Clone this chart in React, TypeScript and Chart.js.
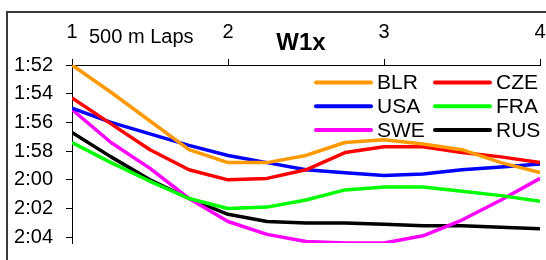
import React, { useEffect, useRef } from "react";
import { Chart, registerables } from "chart.js";

Chart.register(...registerables);

// Lap positions (500 m laps, sampled every quarter lap)
const lapPositions = [1, 1.25, 1.5, 1.75, 2, 2.25, 2.5, 2.75, 3, 3.25, 3.5, 3.75, 4];
const xTickValues = [1, 2, 3, 4];
const yTickValues = [112, 114, 116, 118, 120, 122, 124]; // seconds per 500 m
const yMin = 112;
const yMax = 124.4;

const titleText = "W1x";
const xAxisText = "500 m Laps";

const countries = ["BLR", "CZE", "USA", "FRA", "SWE", "RUS"];
const countryColors = ["#FF9900", "#FF0000", "#0000FF", "#00FF00", "#FF00FF", "#000000"];

// split times (seconds per 500 m)
const blrSplits = [112.0, 113.9, 115.9, 117.9, 118.8, 118.8, 118.3, 117.4, 117.2, 117.5, 117.9, 118.8, 119.5];
const czeSplits = [114.3, 116.1, 117.9, 119.3, 120.0, 119.9, 119.3, 118.1, 117.7, 117.7, 118.1, 118.4, 118.8];
const usaSplits = [115.0, 116.0, 116.8, 117.6, 118.3, 118.8, 119.3, 119.5, 119.7, 119.6, 119.3, 119.1, 118.9];
const fraSplits = [117.4, 118.8, 120.1, 121.3, 122.0, 121.9, 121.4, 120.7, 120.5, 120.5, 120.8, 121.1, 121.5];
const sweSplits = [115.1, 117.4, 119.2, 121.3, 122.9, 123.8, 124.3, 124.4, 124.4, 123.9, 122.8, 121.4, 119.9];
const rusSplits = [116.7, 118.4, 120.0, 121.3, 122.4, 122.9, 123.0, 123.0, 123.1, 123.2, 123.2, 123.3, 123.4];

const seriesValues = [blrSplits, czeSplits, usaSplits, fraSplits, sweSplits, rusSplits];

const FONT = "'Liberation Sans', Arial, sans-serif";

function fmt(v: number): string {
  const m = Math.floor(v / 60);
  const s = Math.round(v - m * 60);
  return m + ":" + (s < 10 ? "0" : "") + s;
}

function zeroPadding(scale: any) {
  scale.paddingLeft = 0;
  scale.paddingRight = 0;
  scale.paddingTop = 0;
  scale.paddingBottom = 0;
}

const overlayPlugin = {
  id: "overlayText",
  afterDraw(chart: any) {
    const ctx = chart.ctx;
    const area = chart.chartArea;
    ctx.save();
    ctx.fillStyle = "#000";
    // axis caption
    ctx.font = "20px " + FONT;
    ctx.textAlign = "left";
    ctx.textBaseline = "alphabetic";
    ctx.fillText(xAxisText, area.left + 17, 43);
    // title
    ctx.font = "bold 24px " + FONT;
    ctx.textAlign = "center";
    ctx.fillText(titleText, 301, 50);
    // legend
    ctx.font = "21px " + FONT;
    ctx.textAlign = "left";
    ctx.textBaseline = "middle";
    chart.data.datasets.forEach((ds: any, i: number) => {
      const col = i % 2;
      const row = Math.floor(i / 2);
      const x0 = area.right - (col === 0 ? 224 : 105);
      const y = area.top + 17.5 + row * 23.7;
      ctx.strokeStyle = ds.borderColor;
      ctx.lineWidth = 4;
      ctx.lineCap = "round";
      ctx.beginPath();
      ctx.moveTo(x0, y);
      ctx.lineTo(x0 + 55, y);
      ctx.stroke();
      ctx.fillText(ds.label, x0 + 61, y + 1);
    });
    ctx.restore();
  },
};

export default function App() {
  const canvasRef = useRef<HTMLCanvasElement | null>(null);

  useEffect(() => {
    const canvas = canvasRef.current;
    if (!canvas) return;
    const chart = new Chart(canvas, {
      type: "line",
      data: {
        datasets: countries.map((c, i) => ({
          label: c,
          data: lapPositions.map((x, j) => ({ x, y: seriesValues[i][j] })),
          borderColor: countryColors[i],
          backgroundColor: countryColors[i],
          borderWidth: 3.5,
          pointRadius: 0,
          tension: 0,
          fill: false,
          borderJoinStyle: "round",
        })),
      },
      options: {
        responsive: false,
        animation: false,
        devicePixelRatio: 1,
        layout: { padding: { left: 0, top: 0, right: 6, bottom: 17 } },
        plugins: {
          legend: { display: false },
          title: { display: false },
          tooltip: { enabled: false },
        },
        scales: {
          x: {
            type: "linear",
            position: "top",
            min: 1,
            max: 4,
            afterBuildTicks: (scale: any) => {
              scale.ticks = xTickValues.map((v) => ({ value: v }));
            },
            afterFit: (scale: any) => {
              scale.height = 65;
              zeroPadding(scale);
            },
            grid: {
              drawOnChartArea: false,
              drawTicks: true,
              tickLength: 6,
              color: "#000",
            },
            border: { display: true, color: "#000", width: 1 },
            ticks: {
              padding: 15,
              color: "#000",
              font: { family: FONT, size: 20 },
              maxRotation: 0,
              autoSkip: false,
            },
          },
          y: {
            type: "linear",
            reverse: true,
            min: yMin,
            max: yMax,
            afterBuildTicks: (scale: any) => {
              scale.ticks = yTickValues.map((v) => ({ value: v }));
            },
            afterFit: (scale: any) => {
              scale.width = 72;
              zeroPadding(scale);
            },
            grid: {
              drawOnChartArea: false,
              drawTicks: true,
              tickLength: 6,
              color: "#000",
            },
            border: { display: true, color: "#000", width: 1 },
            ticks: {
              padding: 13,
              color: "#000",
              font: { family: FONT, size: 20 },
              autoSkip: false,
              callback: (v: any) => fmt(Number(v)),
            },
          },
        },
      },
      plugins: [overlayPlugin],
    } as any);
    return () => chart.destroy();
  }, []);

  return (
    <div
      style={{
        position: "fixed",
        left: 0,
        top: 0,
        width: 546,
        height: 260,
        overflow: "hidden",
        background: "#fff",
      }}
    >
      <div
        style={{
          position: "absolute",
          left: 6,
          top: 11,
          width: 700,
          height: 400,
          border: "2px solid #3a3a3a",
        }}
      />
      <canvas
        ref={canvasRef}
        width={546}
        height={260}
        style={{ position: "absolute", left: 0, top: 0, width: 546, height: 260 }}
      />
    </div>
  );
}
